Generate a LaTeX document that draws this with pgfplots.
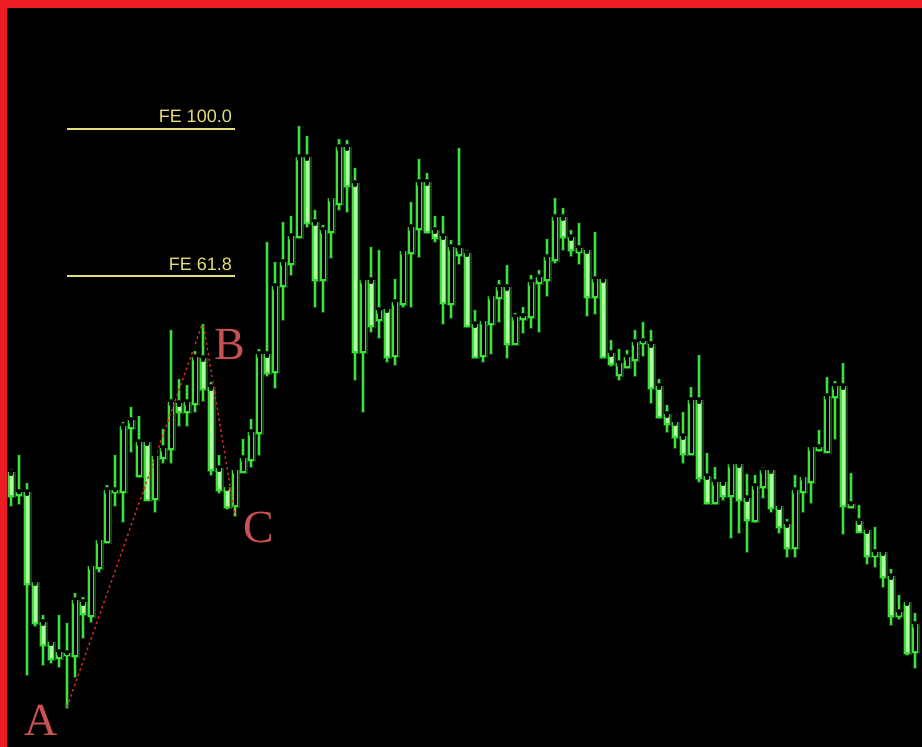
\documentclass[border=0pt]{standalone}
\usepackage{pgfplots}
\usepackage{pgfplotstable}
\pgfplotsset{compat=1.18}
\usepackage{fontspec}
\setmainfont{Liberation Sans}
\newfontfamily\lserif{Liberation Serif}
\definecolor{bord}{RGB}{237,28,36}
\definecolor{cg}{RGB}{60,225,60}
\definecolor{cgl}{RGB}{175,255,160}
\definecolor{fey}{RGB}{230,222,120}
\definecolor{lab}{RGB}{200,82,82}
\definecolor{dashred}{RGB}{215,40,40}
\pgfplotstableread{
x H O C L t
11 467 473 496 506 0
19 453 493 495 504 0
27 481 493 584 675 0
35 583 583 623 626 0
43 613 623 645 665 0
51 639 643 659 663 0
59 613 658 653 667 1
67 621 654 655 708 0
75 591 656 601 677 1
83 595 603 614 638 0
91 563 616 567 622 1
99 539 568 541 572 1
107 483 542 491 543 1
115 453 492 491 506 1
123 420 492 427 522 1
131 405 428 421 452 1
139 414 476 443 477 1
147 443 443 500 500 0
155 452 499 457 512 1
163 427 458 449 463 1
171 328 449 403 463 1
179 377 404 412 426 0
187 383 412 403 426 1
195 349 404 358 412 1
203 322 359 389 401 0
211 380 388 470 475 0
219 453 469 490 493 0
227 483 488 507 509 0
235 469 506 471 516 1
243 437 472 459 472 1
251 417 460 433 467 1
259 347 433 355 455 1
267 240 355 373 376 0
275 260 372 287 388 1
283 220 286 263 320 1
291 214 264 237 275 1
299 124 237 158 238 1
307 134 158 223 227 0
315 208 223 280 307 0
323 223 280 231 312 1
331 199 232 199 258 1
339 137 204 148 210 1
347 138 148 186 212 0
355 166 184 352 380 0
363 281 352 281 412 1
371 245 281 326 332 0
379 248 320 311 338 1
387 308 310 357 362 0
395 277 356 303 365 1
403 250 304 252 307 1
411 200 253 228 307 1
419 157 229 183 257 1
427 171 183 232 233 0
435 214 231 238 242 0
443 214 237 303 324 0
451 238 304 248 318 1
459 146 255 249 264 1
467 248 254 326 327 0
475 308 325 357 358 0
483 320 356 322 362 1
491 297 324 297 354 1
499 278 298 288 322 1
507 263 288 344 358 0
515 311 344 318 344 1
523 305 317 319 333 0
531 273 317 283 328 1
539 268 283 278 332 1
547 237 280 258 296 1
555 196 260 218 263 1
563 206 218 237 250 0
571 228 238 250 256 0
579 221 249 252 264 0
587 247 251 297 316 0
595 230 297 280 314 1
603 277 280 357 358 0
611 338 354 364 366 0
619 347 375 364 380 1
627 348 367 358 368 1
635 328 360 343 376 1
643 320 343 342 356 0
651 328 345 388 403 0
659 377 387 417 418 0
667 403 415 424 432 0
675 421 423 437 448 0
683 410 437 454 463 0
691 385 454 401 455 1
699 353 401 478 482 0
707 451 477 503 504 0
715 465 503 483 504 1
723 480 483 496 500 0
731 465 496 465 538 1
739 465 465 500 533 0
747 472 499 520 552 0
755 473 521 487 522 1
763 465 487 471 498 1
771 469 471 508 512 0
779 503 507 527 533 0
787 517 525 548 557 0
795 473 548 491 557 1
803 475 492 478 512 1
811 447 482 448 503 1
819 428 448 450 451 0
827 375 452 397 452 1
835 379 397 387 439 1
843 361 387 506 534 0
851 471 505 507 508 0
859 503 522 532 532 0
867 527 531 556 564 0
875 525 553 556 567 0
883 553 553 577 587 0
891 567 577 616 625 0
899 593 613 616 619 0
907 603 603 653 655 0
915 611 652 625 668 1
}\candles
\pgfplotsset{candle/.style={only marks, mark=none,
  error bars/.cd, y dir=plus, y explicit, error mark=none,
  error bar style={line cap=butt, #1}}}
\begin{document}
\begin{tikzpicture}
\begin{axis}[
  scale only axis, width=922pt, height=747pt,
  xmin=0, xmax=922, ymin=0, ymax=747, y dir=reverse,
  hide axis, clip=true, unbounded coords=discard,
]
\fill[black] (axis cs:0,0) rectangle (axis cs:922,747);
% glow
\addplot[candle={line width=4pt, color=cg, opacity=0.3}]
  table[x=x, y expr={\thisrow{H}-1}, y error expr={\thisrow{L}-\thisrow{H}+2}] {\candles};
\addplot[candle={line width=9pt, color=cg, opacity=0.3}]
  table[x=x, y expr={min(\thisrow{O},\thisrow{C})-1.5}, y error expr={abs(\thisrow{O}-\thisrow{C})+3}] {\candles};
% wicks
\addplot[candle={line width=1.8pt, color=cg}]
  table[x=x, y=H, y error expr={\thisrow{L}-\thisrow{H}}] {\candles};
% body outline
\addplot[candle={line width=6.8pt, color=cg}]
  table[x=x, y expr={min(\thisrow{O},\thisrow{C})-1}, y error expr={abs(\thisrow{O}-\thisrow{C})+2}] {\candles};
% hollow interior
\addplot[candle={line width=3.0pt, color=black}]
  table[x=x, y expr={(\thisrow{t}==1 && abs(\thisrow{O}-\thisrow{C})>2) ? min(\thisrow{O},\thisrow{C})+0.8 : nan},
        y error expr={abs(\thisrow{O}-\thisrow{C})-1.6}] {\candles};
% filled interior
\addplot[candle={line width=3.0pt, color=cgl}]
  table[x=x, y expr={(\thisrow{t}==0 && abs(\thisrow{O}-\thisrow{C})>2) ? min(\thisrow{O},\thisrow{C})+0.8 : nan},
        y error expr={abs(\thisrow{O}-\thisrow{C})-1.6}] {\candles};
% ABC dashed
\addplot[color=dashred, line width=1.4pt, dash pattern=on 2.5pt off 3pt, mark=none] coordinates {(67,707) (203,322) (235,516)};
% FE lines
\addplot[color=fey, line width=1.3pt, mark=none] coordinates {(67,129) (235,129)};
\addplot[color=fey, line width=1.3pt, mark=none] coordinates {(67,276) (235,276)};
\node[anchor=base east, text=fey, font=\fontsize{18}{18}\selectfont, inner sep=0pt] at (axis cs:232,122) {FE 100.0};
\node[anchor=base east, text=fey, font=\fontsize{18}{18}\selectfont, inner sep=0pt] at (axis cs:232,270) {FE 61.8};
% letters
\node[anchor=base west, text=lab, font=\lserif\fontsize{46}{46}\selectfont, inner sep=0pt] at (axis cs:24,735) {A};
\node[anchor=base west, text=lab, font=\lserif\fontsize{46}{46}\selectfont, inner sep=0pt] at (axis cs:214,359) {B};
\node[anchor=base west, text=lab, font=\lserif\fontsize{46}{46}\selectfont, inner sep=0pt] at (axis cs:243,542) {C};
% border
\fill[bord] (axis cs:0,0) rectangle (axis cs:922,7.5);
\fill[bord] (axis cs:0,0) rectangle (axis cs:7,747);
\end{axis}
\end{tikzpicture}
\end{document}
